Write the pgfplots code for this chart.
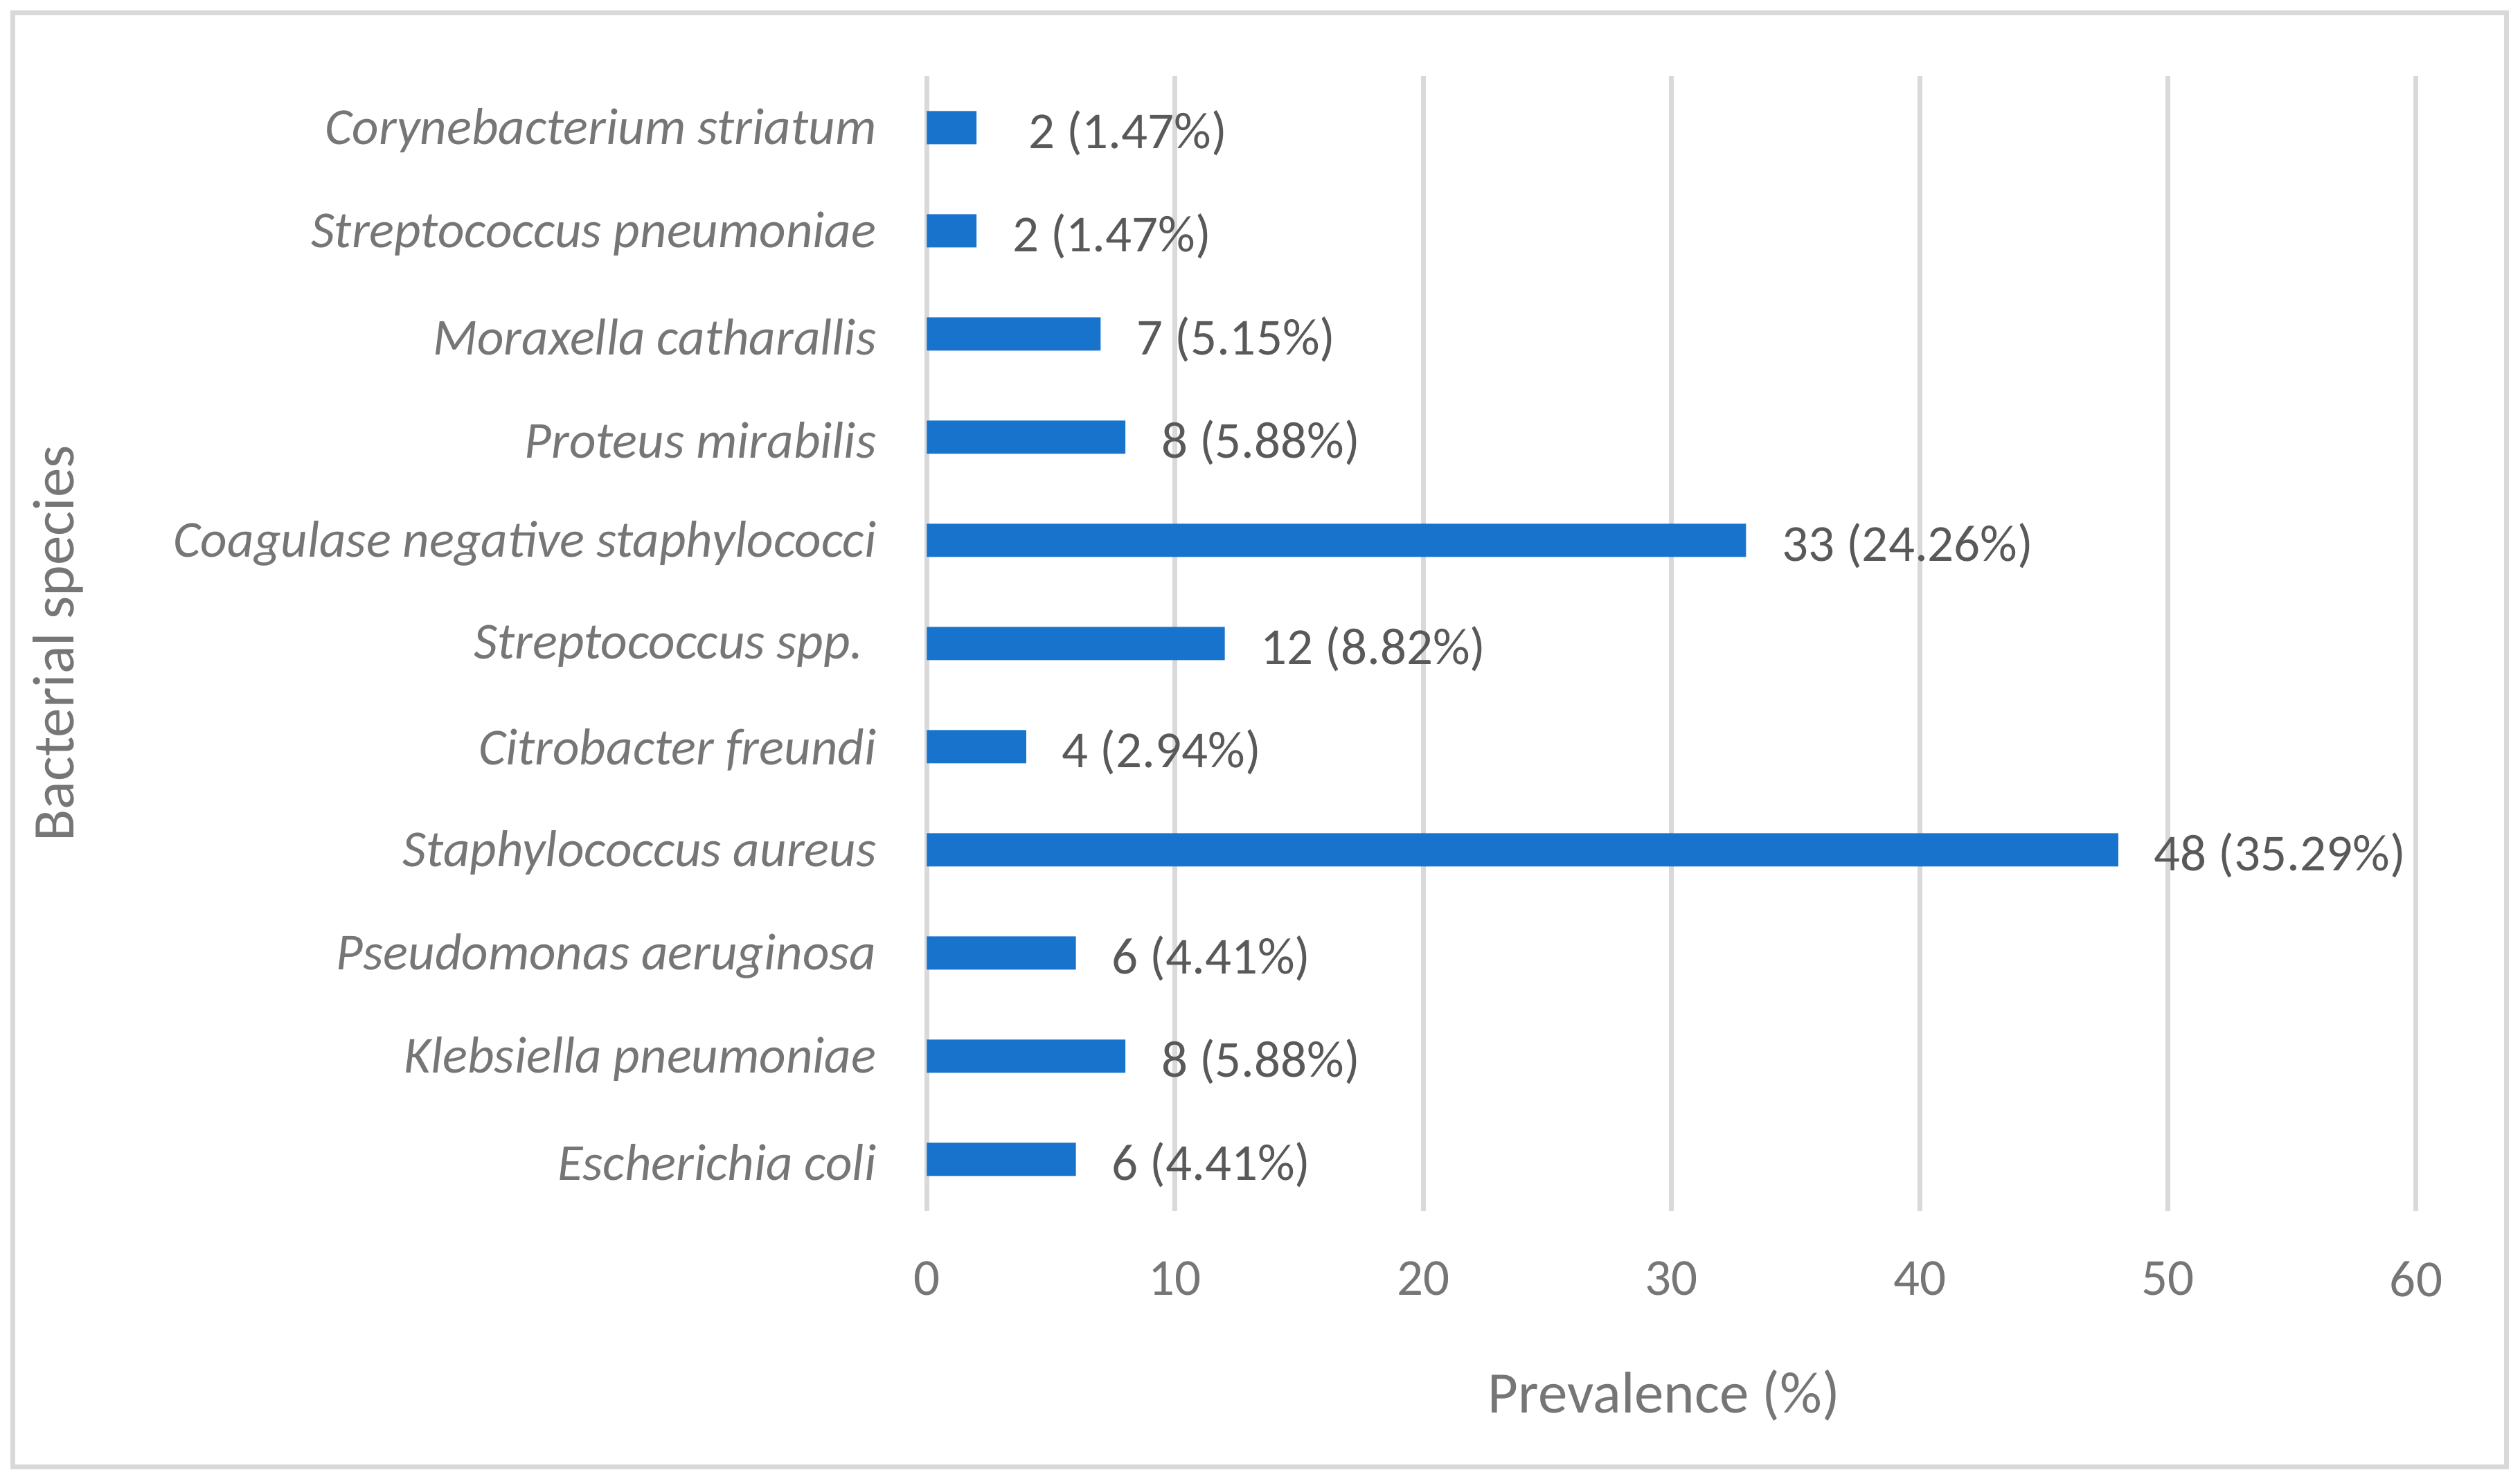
\documentclass[border=0pt]{standalone}
\usepackage{fontspec}
\setmainfont{Carlito}
\usepackage{pgfplots}
\pgfplotsset{compat=1.18}
\definecolor{barblue}{HTML}{1873CC}
\definecolor{txtgray}{HTML}{767676}
\definecolor{lblgray}{HTML}{595959}
\definecolor{gridgray}{HTML}{D9D9D9}

\begin{document}
\begin{tikzpicture}
\path[use as bounding box] (-267.7pt,-77.4pt) rectangle (460.1pt,349.8pt);
\draw[gridgray, line width=1.4pt] (-264.0pt,-73.9pt) rectangle (456.1pt,346.1pt);
\begin{axis}[
  at={(0pt,0pt)}, anchor=south west,
  scale only axis, width=430.1pt, height=327.8pt,
  xbar, bar width=9.6pt,
  xmin=0, xmax=60, ymin=-0.5, ymax=10.5,
  xtick={0,10,...,60},
  ytick={0,...,10},
  yticklabels={Escherichia coli, Klebsiella pneumoniae, Pseudomonas aeruginosa,
    Staphylococcus aureus, Citrobacter freundi, Streptococcus spp.\kern3.7pt,
    Coagulase negative staphylococci, Proteus mirabilis, Moraxella catharallis,
    Streptococcus pneumoniae, Corynebacterium striatum},
  axis line style={draw=none},
  major tick length=0pt,
  xmajorgrids, grid style={gridgray, line width=1.4pt},
  /pgf/number format/assume math mode=true,
  xticklabel style={font=\fontsize{15}{18}\selectfont, text=txtgray, anchor=north, inner sep=0pt, yshift=-14.4pt},
  yticklabel style={font=\fontsize{15}{18}\selectfont\itshape, text=txtgray, anchor=east, inner sep=0pt, xshift=-14.4pt, yshift=-0.8pt},
  xlabel={Prevalence (\%)},
  ylabel={Bacterial species},
  xlabel style={font=\fontsize{17}{20}\selectfont, text=txtgray, at={(axis description cs:0.495,0)}, anchor=center, yshift=-53.2pt},
  ylabel style={font=\fontsize{17}{20}\selectfont, text=txtgray, at={(axis description cs:-0.5834,0.5)}, anchor=center, rotate=0},
  nodes near coords,
  point meta=explicit symbolic,
  nodes near coords style={font=\fontsize{15}{18}\selectfont, text=lblgray, anchor=west, inner sep=0pt, xshift=10.2pt, yshift=-1.5pt},
]
\addplot[fill=barblue, draw=none] coordinates {
  (6,0) [6 (4.41\%)]
  (8,1) [8 (5.88\%)]
  (6,2) [6 (4.41\%)]
  (48,3) [48 (35.29\%)]
  (4,4) [4 (2.94\%)]
  (12,5) [12 (8.82\%)]
  (33,6) [33 (24.26\%)]
  (8,7) [8 (5.88\%)]
  (7,8) [7 (5.15\%)]
  (2,9) [2 (1.47\%)]
  (2,10) [\kern4.6pt2 (1.47\%)]
};
\end{axis}
\end{tikzpicture}
\end{document}
